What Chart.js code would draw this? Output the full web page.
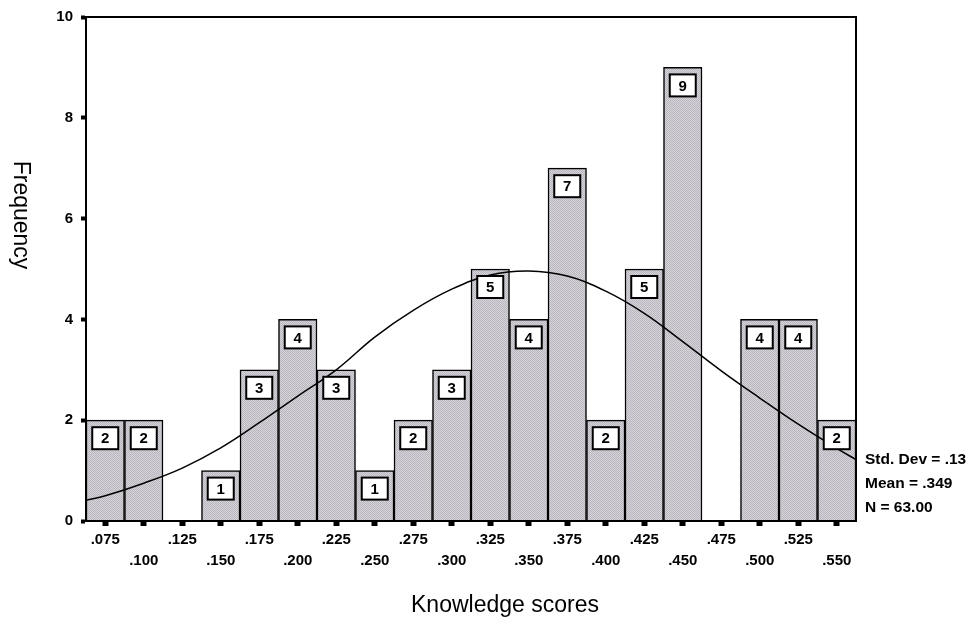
<!DOCTYPE html>
<html>
<head>
<meta charset="utf-8">
<script src="https://cdn.jsdelivr.net/npm/chart.js@4.4.1/dist/chart.umd.min.js"></script>
<style>
    body { margin: 0; background: #fff; }
    #wrap { width: 969px; height: 621px; position: relative; }
</style>
</head>
<body>
<div id="wrap"><canvas id="histChart"></canvas></div>
<script>
// bin centres (tick labels) and counts
const scoreLabels = ['.075', '.100', '.125', '.150', '.175', '.200', '.225', '.250', '.275', '.300',
    '.325', '.350', '.375', '.400', '.425', '.450', '.475', '.500', '.525', '.550'];
const frequencies = [2, 2, 0, 1, 3, 4, 3, 1, 2, 3, 5, 4, 7, 2, 5, 9, 0, 4, 4, 2];

// normal curve
const curveScores = [0.0625, 0.075, 0.1, 0.125, 0.15, 0.175, 0.2, 0.225, 0.25, 0.275, 0.3,
    0.325, 0.35, 0.375, 0.4, 0.425, 0.45, 0.475, 0.5, 0.525, 0.55, 0.5625];
const curveValues = [0.41, 0.50, 0.75, 1.05, 1.45, 1.95, 2.48, 3.00, 3.65, 4.18, 4.60,
    4.88, 4.96, 4.86, 4.56, 4.12, 3.56, 2.98, 2.44, 1.92, 1.44, 1.22];

const yTicks = [0, 2, 4, 6, 8, 10];
const statLines = ['Std. Dev = .13', 'Mean = .349', 'N = 63.00'];

document.addEventListener('DOMContentLoaded', () => {
    const scoreValues = scoreLabels.map((s) => parseFloat(s));

    // stippled grey fill like the scanned bars
    const pc = document.createElement('canvas');
    pc.width = 2;
    pc.height = 2;
    const pctx = pc.getContext('2d');
    pctx.fillStyle = '#d6d3da';
    pctx.fillRect(0, 0, 2, 2);
    pctx.fillStyle = '#b9b6bd';
    pctx.fillRect(0, 0, 1, 1);
    pctx.fillRect(1, 1, 1, 1);
    const ctx = document.getElementById('histChart').getContext('2d');
    const barFill = ctx.createPattern(pc, 'repeat');

    const extrasPlugin = {
        id: 'extras',
        afterDatasetsDraw(chart) {
            const c = chart.ctx;
            const area = chart.chartArea;
            const meta = chart.getDatasetMeta(1);

            // count boxes
            c.save();
            c.font = 'bold 15px "Liberation Sans", Arial, sans-serif';
            c.textAlign = 'center';
            c.textBaseline = 'middle';
            meta.data.forEach((bar, i) => {
                if (!frequencies[i]) return;
                const top = bar.y + 7;
                c.fillStyle = '#fff';
                c.fillRect(bar.x - 13, top, 26, 22);
                c.strokeStyle = '#000';
                c.lineWidth = 2;
                c.strokeRect(bar.x - 13, top, 26, 22);
                c.fillStyle = '#000';
                c.fillText(String(frequencies[i]), bar.x, top + 12);
            });

            // frame
            c.strokeStyle = '#000';
            c.lineWidth = 2;
            c.strokeRect(area.left, area.top, area.right - area.left, area.bottom - area.top);
            c.restore();
        },
        afterDraw(chart) {
            const c = chart.ctx;
            const area = chart.chartArea;
            c.save();
            c.fillStyle = '#000';
            c.font = '23px "Liberation Sans", Arial, sans-serif';
            c.textAlign = 'center';
            c.textBaseline = 'middle';
            c.fillText('Knowledge scores', 505, 606);
            c.translate(20, 215);
            c.rotate(Math.PI / 2);
            c.fillText('Frequency', 0, 0);
            c.restore();

            c.save();
            c.fillStyle = '#000';
            c.font = 'bold 15.5px "Liberation Sans", Arial, sans-serif';
            c.textAlign = 'left';
            c.textBaseline = 'middle';
            statLines.forEach((line, i) => {
                c.fillText(line, area.right + 9, 460 + i * 24);
            });
            c.restore();
        }
    };

    new Chart(ctx, {
        data: {
            datasets: [
                {
                    type: 'line',
                    data: curveScores.map((x, i) => ({ x: x, y: curveValues[i] })),
                    borderColor: '#000',
                    borderWidth: 1.5,
                    pointRadius: 0,
                    tension: 0.4,
                    order: 0,
                },
                {
                    type: 'bar',
                    data: scoreValues.map((x, i) => ({ x: x, y: frequencies[i] })),
                    backgroundColor: barFill,
                    borderColor: '#000',
                    borderWidth: 1.5,
                    barPercentage: 1,
                    categoryPercentage: 1,
                    order: 1,
                },
            ],
        },
        options: {
            responsive: true,
            maintainAspectRatio: false,
            animation: false,
            layout: { padding: { top: 13, right: 113, left: 0, bottom: 0 } },
            plugins: {
                legend: { display: false },
                tooltip: { enabled: false },
            },
            scales: {
                x: {
                    type: 'linear',
                    min: 0.0625,
                    max: 0.5625,
                    offset: false,
                    afterBuildTicks: (scale) => {
                        scale.ticks = scoreValues.map((v) => ({ value: v }));
                    },
                    afterFit: (scale) => {
                        scale.height = 100;
                    },
                    ticks: {
                        autoSkip: false,
                        maxRotation: 0,
                        padding: 3,
                        color: '#000',
                        font: { family: '"Liberation Sans", Arial, sans-serif', size: 15, weight: 'bold', lineHeight: 1.4 },
                        callback: (value, index) => (index % 2 === 0 ? [scoreLabels[index], ''] : ['', scoreLabels[index]]),
                    },
                    grid: {
                        offset: false,
                        drawOnChartArea: false,
                        tickLength: 5,
                        tickWidth: 6,
                        tickColor: '#000',
                    },
                    border: { color: '#000', width: 2 },
                },
                y: {
                    min: 0,
                    max: 10,
                    afterBuildTicks: (scale) => {
                        scale.ticks = yTicks.map((v) => ({ value: v }));
                    },
                    afterFit: (scale) => {
                        scale.width = 86;
                    },
                    ticks: {
                        padding: 8,
                        color: '#000',
                        font: { family: '"Liberation Sans", Arial, sans-serif', size: 15, weight: 'bold' },
                    },
                    grid: {
                        drawOnChartArea: false,
                        tickLength: 5,
                        tickWidth: 4,
                        tickColor: '#000',
                    },
                    border: { color: '#000', width: 2 },
                },
            },
        },
        plugins: [extrasPlugin],
    });
});
</script>
</body>
</html>
